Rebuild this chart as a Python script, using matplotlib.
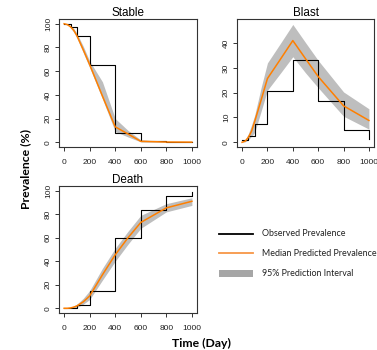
import matplotlib
matplotlib.use("Agg")
import matplotlib.pyplot as plt
from matplotlib.lines import Line2D
from matplotlib.patches import Rectangle

# ---------------- data ----------------
obs_days = [0, 50, 100, 200, 400, 600, 800, 1000]
stable_obs = [100, 97, 90, 65, 8, 1, 0.2, 0]
blast_obs = [0.8, 2.5, 7.5, 20.6, 33, 16.6, 5.1, 1.5]
death_obs = [0, 0, 2.5, 14.8, 59.4, 83.2, 95.2, 98.6]

pred_days = [0, 25, 50, 75, 100, 150, 200, 300, 400, 500, 600, 800, 1000]
stable_med = [100, 99.3, 97.5, 94.5, 90, 78, 65.5, 39, 13, 7, 0.8, 0.2, 0.1]
stable_lo = [100, 99, 96.5, 93, 88, 75.5, 63, 36.5, 9, 4.5, 0.3, 0.1, 0.0]
stable_hi = [100, 99.7, 98.5, 96, 92, 81, 68.5, 51, 20, 10, 2, 0.5, 0.3]

blast_med = [0, 0.5, 2, 4.5, 8.5, 17, 25.7, 33.3, 41, 33.7, 26.5, 14.7, 8.8]
blast_lo = [0, 0.2, 1, 2.5, 4, 12.5, 21, 27.7, 34.5, 28, 22, 10.5, 5.3]
blast_hi = [0, 1, 3.5, 7, 11, 22, 32, 39.7, 47.5, 40.2, 33, 20.3, 13.5]

death_med = [0, 0, 0.3, 1, 2, 5.5, 10.5, 28.5, 45.5, 60, 73, 85.4, 91]
death_lo = [0, 0, 0, 0.3, 0.8, 3.5, 7.5, 24, 40, 54.5, 68, 82, 87.5]
death_hi = [0, 0.3, 1, 2, 3.5, 8.5, 15, 34, 51, 65.5, 79, 89, 94]

panel_titles = ["Stable", "Blast", "Death"]
x_ticks = [0, 200, 400, 600, 800, 1000]
y_ticks_pct = [0, 20, 40, 60, 80, 100]
y_ticks_blast = [0, 10, 20, 30, 40]
legend_labels = ["Observed Prevalence", "Median Predicted Prevalence", "95% Prediction Interval"]
xlabel = "Time (Day)"
ylabel = "Prevalence (%)"

# ---------------- style ----------------
W, H = 377, 350
ORANGE = "#FF7F00"
BAND = "#BEBEBE"
AXC = "#333333"
TICKFONT = "Liberation Sans"

fig = plt.figure(figsize=(W / 100, H / 100), dpi=100)


def px_axes(left, top, right, bottom):
    return fig.add_axes([left / W, 1 - bottom / H, (right - left) / W, (bottom - top) / H])


def draw_panel(ax, title, obs, med, lo, hi, yticks, ylim):
    ax.fill_between(pred_days, lo, hi, color=BAND, lw=0, zorder=1)
    ax.step(obs_days, obs, where="post", color="black", lw=0.8, zorder=2)
    ax.plot(pred_days, med, color=ORANGE, lw=1.1, zorder=3)
    ax.set_xlim(-40, 1040)
    ax.set_ylim(*ylim)
    ax.set_xticks(x_ticks)
    ax.set_yticks(yticks)
    for s in ax.spines.values():
        s.set_color(AXC)
        s.set_linewidth(0.8)
    ax.tick_params(axis="both", length=2.6, width=0.7, color=AXC,
                   labelsize=6, labelcolor="#222222")
    ax.tick_params(axis="x", pad=6.3)
    ax.tick_params(axis="y", pad=2.4, labelrotation=90)
    for lab in ax.get_xticklabels() + ax.get_yticklabels():
        lab.set_fontfamily(TICKFONT)
    for lab in ax.get_yticklabels():
        lab.set_va("center")
    ax.set_title(title, fontsize=8.4, family=TICKFONT, pad=0.3)


ax1 = px_axes(59, 19, 197, 147)
draw_panel(ax1, panel_titles[0], stable_obs, stable_med, stable_lo, stable_hi,
           y_ticks_pct, (-4, 104))

ax2 = px_axes(237, 19, 374, 147)
draw_panel(ax2, panel_titles[1], blast_obs, blast_med, blast_lo, blast_hi,
           y_ticks_blast, (-1.9, 49.7))

ax3 = px_axes(59, 186, 197, 313)
draw_panel(ax3, panel_titles[2], death_obs, death_med, death_lo, death_hi,
           y_ticks_pct, (-4, 104))

# axis labels (figure-level)
fig.text(202 / W, 1 - 343 / H, xlabel, ha="center", va="center",
         fontsize=8.8, fontweight="bold", family="Lato")
fig.text(26 / W, 1 - 169 / H, ylabel, ha="center", va="center", rotation=90,
         fontsize=8.8, fontweight="bold", family="Lato")

# legend drawn in pixel space
lg = fig.add_axes([0, 0, 1, 1], zorder=5)
lg.set_xlim(0, W)
lg.set_ylim(H, 0)
lg.axis("off")
lg.add_line(Line2D([219, 253], [234, 234], color="black", lw=1.3))
lg.add_line(Line2D([219, 253], [253, 253], color="#F79646", lw=1.3))
lg.add_patch(Rectangle((219, 269.5), 34, 7, color="#A6A6A6", lw=0))
for yy, t in zip([234, 253, 273], legend_labels):
    lg.text(262, yy, t, ha="left", va="center", fontsize=6.4, family="Lato",
            color="#222222")

fig.savefig("out.png", dpi=100)
